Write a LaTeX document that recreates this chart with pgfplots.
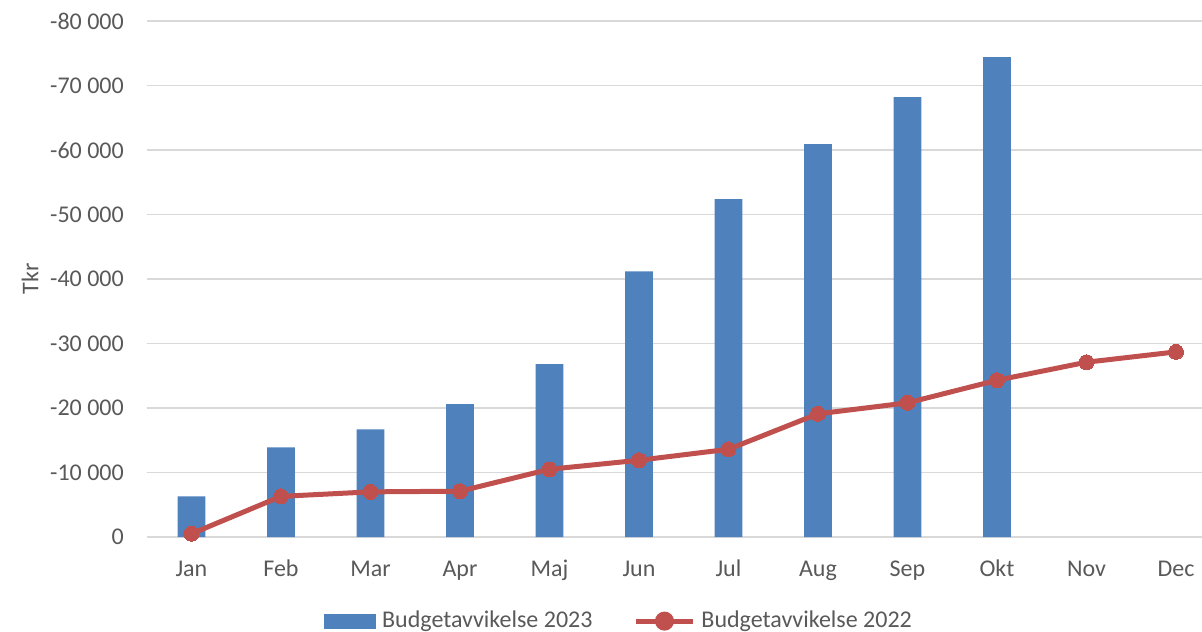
\documentclass[border=0pt]{standalone}
\usepackage{fontspec}
\setmainfont{Carlito}
\usepackage{pgfplots}
\pgfplotsset{compat=1.18}
\definecolor{bar23}{HTML}{4F81BD}
\definecolor{line22}{HTML}{C0504D}
\definecolor{txt}{HTML}{595959}
\definecolor{gridc}{HTML}{D9D9D9}

\begin{document}
\fontsize{24bp}{29bp}\selectfont
\begin{tikzpicture}
\begin{axis}[
    at={(0,0)}, anchor=south west,
    scale only axis, width=1055.3bp, height=516bp,
    xmin=-0.5, xmax=11.291,
    ymin=-80000, ymax=0, y dir=reverse,
    scaled y ticks=false,
    xtick={0,...,11},
    xticklabels={Jan,Feb,Mar,Apr,Maj,Jun,Jul,Aug,Sep,Okt,Nov,Dec},
    ytick={-80000,-70000,-60000,-50000,-40000,-30000,-20000,-10000,0},
    yticklabels={-80 000,-70 000,-60 000,-50 000,-40 000,-30 000,-20 000,-10 000,0},
    major tick length=0pt,
    axis line style={draw=none},
    ymajorgrids, grid style={gridc, line width=1.5bp},
    ticklabel style={font=\fontsize{24bp}{29bp}\selectfont, text=txt},
    xticklabel style={anchor=base, yshift=-39bp},
    yticklabel style={anchor=east, inner xsep=0pt, xshift=-22.7bp},
    ylabel={Tkr},
    ylabel style={at={(axis description cs:-0.1106,0.5)}, anchor=center,
        font=\fontsize{24bp}{29bp}\selectfont, text=txt},
    legend columns=2,
    legend style={at={(axis description cs:0.4466,-0.163)}, anchor=center,
        draw=none, fill=none, inner sep=0pt,
        font=\fontsize{24bp}{29bp}\selectfont, text=txt,
        nodes={inner xsep=0pt, inner ysep=0pt},
        /tikz/every odd column/.append style={column sep=6bp},
        /tikz/every even column/.append style={column sep=41bp}},
]
\addplot[ybar, bar width=0.31, fill=bar23, draw=none,
    legend image code/.code={\fill[bar23] (0bp,-7.5bp) rectangle (52bp,7.5bp);}]
    coordinates {
    (0,-6300) (1,-13900) (2,-16700) (3,-20600) (4,-26800)
    (5,-41200) (6,-52400) (7,-60900) (8,-68200) (9,-74400)
    };
\addlegendentry{Budgetavvikelse 2023}
\addplot[line22, line width=5bp, mark=*, mark size=7.5bp,
    mark options={fill=line22, draw=line22, line width=0pt},
    legend image code/.code={
        \draw[line22, line width=5bp] (0bp,0bp) -- (57bp,0bp);
        \fill[line22] (28.5bp,0bp) circle[radius=7bp];}]
    coordinates {
    (0,-500) (1,-6300) (2,-7000) (3,-7100) (4,-10500) (5,-11900)
    (6,-13600) (7,-19100) (8,-20800) (9,-24300) (10,-27100) (11,-28700)
    };
\addlegendentry{Budgetavvikelse 2022}
\end{axis}
\pgfresetboundingbox
\path (-146.7bp,-95bp) rectangle (1055.3bp,537bp);
\end{tikzpicture}
\end{document}
